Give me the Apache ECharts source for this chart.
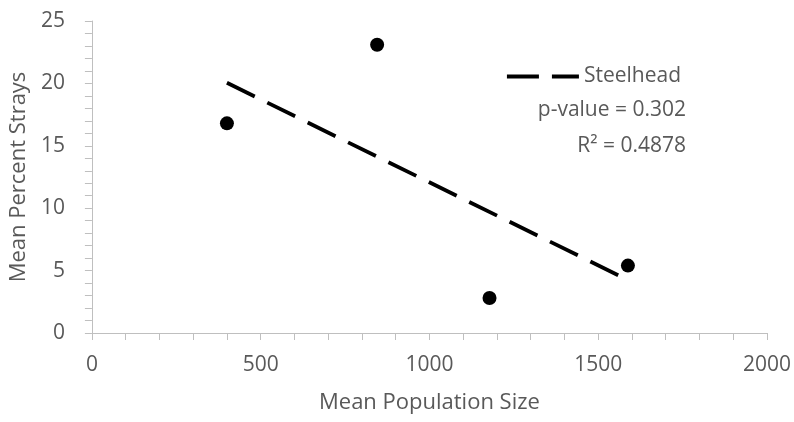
<!DOCTYPE html>
<html>
<head>
<meta charset="utf-8">
<script src="https://cdn.jsdelivr.net/npm/echarts@6/dist/echarts.min.js"></script>
<style>html,body{margin:0;padding:0;background:#fff}#c{width:794px;height:422px}</style>
</head>
<body>
<div id="c"></div>
<script>
const popSize = [400, 845, 1178, 1588];
const strays = [16.8, 23.1, 2.8, 5.4];
const trendX = [400, 1588];
const trendY = [20.05, 4.25];
const xTicks = [0, 500, 1000, 1500, 2000];
const yTicks = [0, 5, 10, 15, 20, 25];
const seriesName = 'Steelhead';
const statLines = ['p-value = 0.302', 'R\u00B2 = 0.4878'];

const chart = echarts.init(document.getElementById('c'), null, {renderer: 'canvas'});
const font = '"Open Sans", sans-serif';
const txt = '#595959';
const axisGray = '#bfbfbf';
chart.setOption({
  animation: false,
  backgroundColor: '#fff',
  grid: {left: 90, right: 27, top: 21, bottom: 89},
  legend: {
    data: [seriesName],
    right: 108, top: 61,
    itemWidth: 72, itemHeight: 4,
    textStyle: {color: txt, fontSize: 21, fontFamily: font},
    icon: 'path://M0,0 L32,0 L32,4 L0,4 Z M45,0 L72,0 L72,4 L45,4 Z',
    itemGap: 5
  },
  xAxis: {
    type: 'value', min: xTicks[0], max: xTicks[xTicks.length-1], interval: 500,
    name: 'Mean Population Size', nameLocation: 'middle', nameGap: 59,
    nameTextStyle: {color: txt, fontSize: 22, fontFamily: font},
    axisLine: {show: true, lineStyle: {color: axisGray, width: 1}},
    axisTick: {show: true, length: 7, lineStyle: {color: axisGray}},
    minorTick: {show: true, splitNumber: 5, length: 7, lineStyle: {color: axisGray}},
    axisLabel: {color: txt, fontSize: 21, fontFamily: font, margin: 22, formatter: v => String(v)},
    splitLine: {show: false}
  },
  yAxis: {
    type: 'value', min: yTicks[0], max: yTicks[yTicks.length-1], interval: 5,
    name: 'Mean Percent Strays', nameLocation: 'middle', nameGap: 56, nameRotate: 90,
    nameTextStyle: {color: txt, fontSize: 22, fontFamily: font},
    axisLine: {show: true, lineStyle: {color: axisGray, width: 1}},
    axisTick: {show: true, length: 7, lineStyle: {color: axisGray}},
    minorTick: {show: true, splitNumber: 5, length: 7, lineStyle: {color: axisGray}},
    axisLabel: {color: txt, fontSize: 21, fontFamily: font, margin: 27, formatter: v => String(v)},
    splitLine: {show: false}
  },
  series: [
    {
      name: 'points', type: 'scatter', symbol: 'circle', symbolSize: 14,
      itemStyle: {color: '#000', opacity: 1},
      data: popSize.map((x, i) => [x, strays[i]])
    },
    {
      name: seriesName, type: 'line', symbol: 'none',
      lineStyle: {color: '#000', width: 3.8, type: [31, 14], cap: 'butt'},
      itemStyle: {color: '#000'},
      data: trendX.map((x, i) => [x, trendY[i]])
    }
  ],
  graphic: statLines.map((s, i) => ({
    type: 'text', x: 686, y: 110.5 + i * 35.5,
    style: {text: s, fill: txt, fontSize: 21, fontFamily: font, align: 'right', verticalAlign: 'middle'}
  }))
});
</script>
</body>
</html>
